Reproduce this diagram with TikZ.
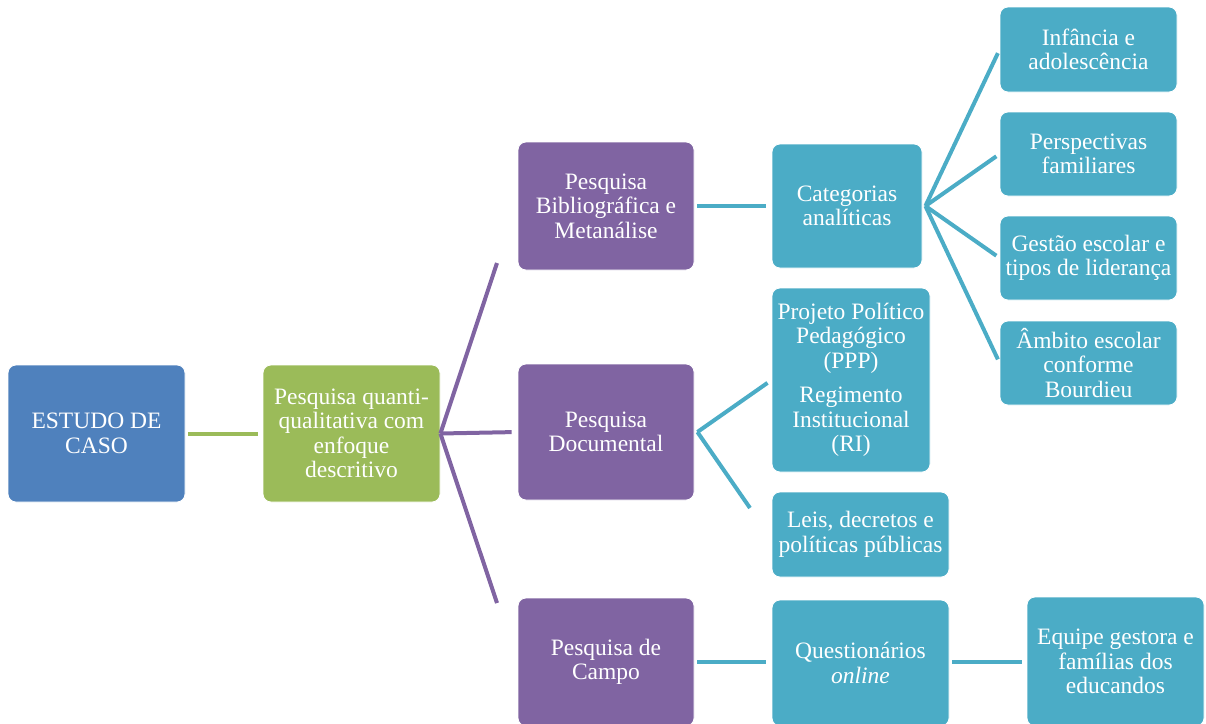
\documentclass[tikz,border=0pt]{standalone}
\usepackage{fontspec}
\setmainfont{Liberation Serif}
\usepackage{tikz}
\usetikzlibrary{shapes,arrows}
\definecolor{azulcaso}{HTML}{4F81BD}
\definecolor{verdecaso}{HTML}{9BBB59}
\definecolor{roxocaso}{HTML}{8064A2}
\definecolor{cianocaso}{HTML}{4BACC6}
\tikzstyle{caixa} = [rectangle, rounded corners=8pt, text centered, align=center, draw=white, line width=0.8pt, text=white, inner sep=0pt, font=\fontsize{23.5}{24.5}\selectfont]
\tikzstyle{azul} = [caixa, fill=azulcaso, minimum width=177pt, minimum height=137pt]
\tikzstyle{verde} = [caixa, fill=verdecaso, minimum width=177pt, minimum height=137pt]
\tikzstyle{roxo} = [caixa, fill=roxocaso, minimum width=176pt, minimum height=128pt]
\tikzstyle{ciano} = [caixa, fill=cianocaso, minimum width=177pt, minimum height=85pt]
\tikzstyle{linha} = [line width=4pt]

\begin{document}
\begin{tikzpicture}[x=1pt, y=-1pt, node distance=255pt]
\useasboundingbox (0,0) rectangle (1206,723);
\node (estudo) [azul] at (96.5,433.5) {ESTUDO DE\\CASO};
\node (quanti) [verde, right of=estudo] {Pesquisa quanti-\\qualitativa com\\enfoque\\descritivo};
\node (bib) [roxo] at (606,206) {Pesquisa\\Bibliográfica e\\Metanálise};
\node (doc) [roxo, minimum height=136pt] at (606,432) {Pesquisa\\Documental};
\node (campo) [roxo] at (606,662) {Pesquisa de\\Campo};
\node (categ) [ciano, minimum width=150pt, minimum height=124pt] at (847,206) {Categorias\\analíticas};
\node (ppp) [ciano, minimum width=158pt, minimum height=184pt] at (851,380) {Projeto Político\\Pedagógico\\(PPP)\\[10pt]Regimento\\Institucional\\(RI)};
\node (leis) [ciano] at (860.5,534.5) {Leis, decretos e\\políticas públicas};
\node (quest) [ciano, minimum height=126pt] at (860.5,663) {Questionários\\\textit{online}};
\node (equipe) [ciano, minimum height=129pt] at (1115.5,661.5) {Equipe gestora e\\famílias dos\\educandos};
\node (infancia) [ciano] at (1088.5,49.5) {Infância e\\adolescência};
\node (persp) [ciano, minimum height=84pt] at (1088.5,154) {Perspectivas\\familiares};
\node (gestao) [ciano, minimum height=84pt] at (1088.5,258) {Gestão escolar e\\tipos de liderança};
\node (ambito) [ciano, minimum height=84pt] at (1088.5,363) {Âmbito escolar\\conforme\\Bourdieu};

% pontas soltas dos ramos
\coordinate (fimbib) at (497,263);
\coordinate (fimcampo) at (497,603);
\coordinate (fimleis) at (750,508);

\draw [linha, verdecaso, shorten <=3pt, shorten >=5pt] (estudo) -- (quanti);
\draw [linha, roxocaso] (quanti.east) -- (fimbib);
\draw [linha, roxocaso, shorten >=6pt] (quanti.east) -- (doc.west);
\draw [linha, roxocaso] (quanti.east) -- (fimcampo);
\draw [linha, cianocaso, shorten <=3pt, shorten >=6pt] (bib) -- (categ);
\draw [linha, cianocaso, shorten <=3pt, shorten >=6pt] (campo.east |- equipe.west) -- (quest.west |- equipe.west);
\draw [linha, cianocaso, shorten <=3pt, shorten >=5pt] (quest.east |- equipe.west) -- (equipe.west);
\draw [linha, cianocaso, shorten >=5pt] ([xshift=3pt]doc.east) -- (ppp.west);
\draw [linha, cianocaso] ([xshift=3pt]doc.east) -- (fimleis);
\foreach \alvo in {infancia,persp,gestao,ambito}
  \draw [linha, cianocaso, shorten >=4pt] ([xshift=3pt]categ.east) -- (\alvo.west);
\end{tikzpicture}
\end{document}
